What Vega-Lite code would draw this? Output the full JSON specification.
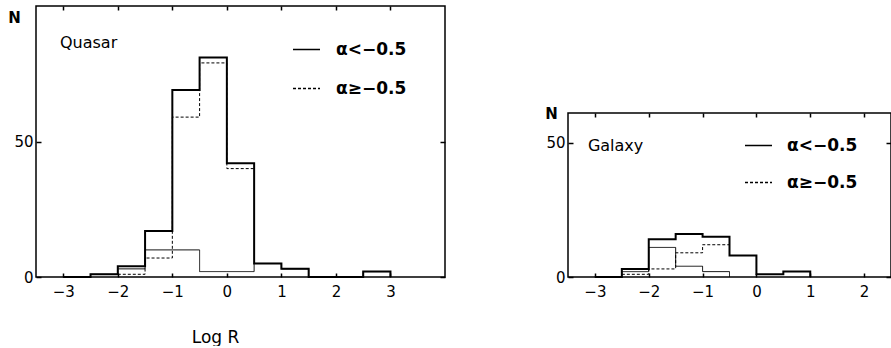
{
  "$schema": "https://vega.github.io/schema/vega-lite/v6.json",
  "padding": {"left": 6, "top": 4, "right": 0, "bottom": 0},
  "background": "white",
  "datasets": {
    "quasar": [
      {"series": "total", "x": -3, "n": 0},
      {"series": "total", "x": -2.5, "n": 1},
      {"series": "total", "x": -2, "n": 4},
      {"series": "total", "x": -1.5, "n": 17},
      {"series": "total", "x": -1, "n": 69},
      {"series": "total", "x": -0.5, "n": 81},
      {"series": "total", "x": 0, "n": 42},
      {"series": "total", "x": 0.5, "n": 5},
      {"series": "total", "x": 1, "n": 3},
      {"series": "total", "x": 1.5, "n": 0},
      {"series": "total", "x": 2, "n": 0},
      {"series": "total", "x": 2.5, "n": 2},
      {"series": "total", "x": 3, "n": 0},
      {"series": "α<−0.5", "x": -3, "n": 0},
      {"series": "α<−0.5", "x": -2.5, "n": 1},
      {"series": "α<−0.5", "x": -2, "n": 3},
      {"series": "α<−0.5", "x": -1.5, "n": 10},
      {"series": "α<−0.5", "x": -1, "n": 10},
      {"series": "α<−0.5", "x": -0.5, "n": 2},
      {"series": "α<−0.5", "x": 0, "n": 2},
      {"series": "α<−0.5", "x": 0.5, "n": 5},
      {"series": "α<−0.5", "x": 1, "n": 3},
      {"series": "α<−0.5", "x": 1.5, "n": 0},
      {"series": "α<−0.5", "x": 2, "n": 0},
      {"series": "α<−0.5", "x": 2.5, "n": 2},
      {"series": "α<−0.5", "x": 3, "n": 0},
      {"series": "α≥−0.5", "x": -2, "n": 1},
      {"series": "α≥−0.5", "x": -1.5, "n": 7},
      {"series": "α≥−0.5", "x": -1, "n": 59},
      {"series": "α≥−0.5", "x": -0.5, "n": 79},
      {"series": "α≥−0.5", "x": 0, "n": 40},
      {"series": "α≥−0.5", "x": 0.5, "n": 40}
    ],
    "galaxy": [
      {"series": "total", "x": -3, "n": 0},
      {"series": "total", "x": -2.5, "n": 3},
      {"series": "total", "x": -2, "n": 14},
      {"series": "total", "x": -1.5, "n": 16},
      {"series": "total", "x": -1, "n": 15},
      {"series": "total", "x": -0.5, "n": 8},
      {"series": "total", "x": 0, "n": 1},
      {"series": "total", "x": 0.5, "n": 2},
      {"series": "total", "x": 1, "n": 0},
      {"series": "α<−0.5", "x": -3, "n": 0},
      {"series": "α<−0.5", "x": -2.5, "n": 2},
      {"series": "α<−0.5", "x": -2, "n": 11},
      {"series": "α<−0.5", "x": -1.5, "n": 4},
      {"series": "α<−0.5", "x": -1, "n": 2},
      {"series": "α<−0.5", "x": -0.5, "n": 0},
      {"series": "α≥−0.5", "x": -2.5, "n": 1},
      {"series": "α≥−0.5", "x": -2, "n": 3},
      {"series": "α≥−0.5", "x": -1.5, "n": 9},
      {"series": "α≥−0.5", "x": -1, "n": 12},
      {"series": "α≥−0.5", "x": -0.5, "n": 12}
    ]
  },
  "hconcat": [
    {
      "width": 409,
      "height": 271,
      "data": {"name": "quasar"},
      "layer": [
        {
          "transform": [{"filter": "datum.series !== 'total'"}],
          "mark": {"type": "line", "interpolate": "step-after", "color": "black", "strokeWidth": 1},
          "encoding": {
            "x": {"field": "x", "type": "quantitative", "scale": {"domain": [-3.5, 4], "nice": false, "zero": false},
              "axis": {"orient": "bottom", "values": [-3, -2, -1, 0, 1, 2, 3], "tickSize": -4, "labelPadding": 11, "title": "Log R", "titleX": 179, "titleY": 65, "titleAlign": "center", "titleBaseline": "alphabetic", "titleFontSize": 17, "titleFontWeight": "normal"}},
            "y": {"field": "n", "type": "quantitative", "scale": {"domain": [0, 100], "nice": false},
              "axis": {"orient": "left", "values": [0, 50], "tickSize": -5, "labelPadding": 8, "title": "N", "titleAngle": 0, "titleX": -22, "titleY": 11, "titleAlign": "center", "titleBaseline": "middle", "titleFontSize": 15, "titleFontWeight": "bold"}},
            "strokeDash": {"field": "series", "type": "nominal", "scale": {"domain": ["α<−0.5", "α≥−0.5"], "range": [[1, 0], [3, 2]]},
              "legend": {"orient": "none", "legendX": 256, "legendY": 29, "title": null, "symbolType": "stroke", "symbolSize": 729, "symbolStrokeWidth": 1.5, "symbolStrokeColor": "black", "labelFont": "DejaVu Sans", "labelFontSize": 17, "labelFontWeight": "bold", "labelColor": "black", "labelOffset": 15, "rowPadding": 16, "padding": 0}}
          }
        },
        {
          "transform": [{"filter": "datum.series === 'total'"}],
          "mark": {"type": "line", "interpolate": "step-after", "color": "black", "strokeWidth": 2},
          "encoding": {
            "x": {"field": "x", "type": "quantitative", "axis": {"orient": "top", "values": [-3, -2, -1, 0, 1, 2, 3], "labels": false, "tickSize": -4, "title": null}},
            "y": {"field": "n", "type": "quantitative", "axis": {"orient": "right", "values": [0, 50], "labels": false, "tickSize": -5, "title": null}}
          }
        },
        {
          "data": {"values": [{"label": "Quasar"}]},
          "mark": {"type": "text", "align": "left", "baseline": "alphabetic", "fontSize": 16, "color": "black"},
          "encoding": {
            "text": {"field": "label"},
            "x": {"datum": -3.06, "type": "quantitative", "axis": null},
            "y": {"datum": 84.5, "type": "quantitative", "axis": null}
          }
        }
      ],
      "resolve": {"axis": {"x": "independent", "y": "independent"}}
    },
    {
      "vconcat": [
        {
          "width": 323,
          "height": 107,
          "data": {"values": [{"label": ""}]},
          "mark": {"type": "text", "text": ""},
          "view": {"stroke": null}
        },
        {
          "width": 323,
          "height": 164,
          "data": {"name": "galaxy"},
          "layer": [
            {
              "transform": [{"filter": "datum.series !== 'total'"}],
              "mark": {"type": "line", "interpolate": "step-after", "color": "black", "strokeWidth": 1},
              "encoding": {
                "x": {"field": "x", "type": "quantitative", "scale": {"domain": [-3.5, 2.5], "nice": false, "zero": false},
                  "axis": {"orient": "bottom", "values": [-3, -2, -1, 0, 1, 2], "tickSize": -4, "labelPadding": 11, "title": null}},
                "y": {"field": "n", "type": "quantitative", "scale": {"domain": [0, 61], "nice": false},
                  "axis": {"orient": "left", "values": [0, 50], "tickSize": -5, "labelPadding": 8, "title": "N", "titleAngle": 0, "titleX": -17, "titleY": 0, "titleAlign": "center", "titleBaseline": "middle", "titleFontSize": 15, "titleFontWeight": "bold"}},
                "strokeDash": {"field": "series", "type": "nominal", "scale": {"domain": ["α<−0.5", "α≥−0.5"], "range": [[1, 0], [3, 2]]},
                  "legend": {"orient": "none", "legendX": 176, "legendY": 125, "title": null, "symbolType": "stroke", "symbolSize": 729, "symbolStrokeWidth": 1.5, "symbolStrokeColor": "black", "labelFont": "DejaVu Sans", "labelFontSize": 17, "labelFontWeight": "bold", "labelColor": "black", "labelOffset": 14, "rowPadding": 14, "padding": 0}}
              }
            },
            {
              "transform": [{"filter": "datum.series === 'total'"}],
              "mark": {"type": "line", "interpolate": "step-after", "color": "black", "strokeWidth": 2},
              "encoding": {
                "x": {"field": "x", "type": "quantitative", "axis": {"orient": "top", "values": [-3, -2, -1, 0, 1, 2], "labels": false, "tickSize": -4, "title": null}},
                "y": {"field": "n", "type": "quantitative", "axis": {"orient": "right", "values": [0, 50], "labels": false, "tickSize": -5, "title": null}}
              }
            },
            {
              "data": {"values": [{"label": "Galaxy"}]},
              "mark": {"type": "text", "align": "left", "baseline": "alphabetic", "fontSize": 16, "color": "black"},
              "encoding": {
                "text": {"field": "label"},
                "x": {"datum": -3.13, "type": "quantitative", "axis": null},
                "y": {"datum": 47, "type": "quantitative", "axis": null}
              }
            }
          ],
          "resolve": {"axis": {"x": "independent", "y": "independent"}}
        }
      ],
      "spacing": 0,
      "bounds": "flush"
    }
  ],
  "spacing": 123,
  "bounds": "flush",
  "resolve": {"scale": {"strokeDash": "independent"}, "legend": {"strokeDash": "independent"}},
  "config": {
    "font": "DejaVu Sans",
    "view": {"stroke": "black", "strokeWidth": 1.5},
    "axis": {"grid": false, "domain": false, "labelFontSize": 15, "labelColor": "black", "tickColor": "black", "tickWidth": 1.5, "titleColor": "black", "labelFont": "DejaVu Sans", "titleFont": "DejaVu Sans"}
  }
}
